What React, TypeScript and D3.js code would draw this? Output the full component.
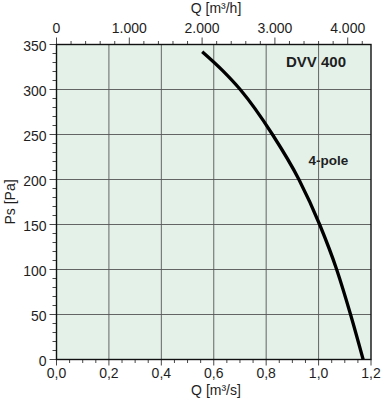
import React from "react";
import * as d3 from "d3";

const flowM3s = [0.556, 0.634, 0.701, 0.824, 0.925, 1.004, 1.069, 1.122, 1.17];
const pressurePa = [342, 321, 300, 250, 200, 150, 100, 50, 0];
const xTicks = [0, 0.2, 0.4, 0.6, 0.8, 1.0, 1.2];
const yTicks = [0, 50, 100, 150, 200, 250, 300, 350];
const topTicks = [0, 1000, 2000, 3000, 4000];
const seriesLabel = "4-pole";
const modelLabel = "DVV 400";

const W = 382, H = 400;
const L = 56.5, R = 371, T = 44.5, B = 359.5;
const FONT = "'Liberation Sans', Arial, sans-serif";
const TXT = "#1e1e1e";

export default function App() {
  const x = d3.scaleLinear().domain([0, 1.2]).range([L, R]);
  const y = d3.scaleLinear().domain([0, 350]).range([B, T]);
  const xh = d3.scaleLinear().domain([0, 1.2 * 3600]).range([L, R]);

  const pts = flowM3s.map((q, i) => [q, pressurePa[i]] as [number, number]);
  const line = d3.line<[number, number]>().x(d => x(d[0])).y(d => y(d[1])).curve(d3.curveMonotoneX);

  const xMinor = d3.range(0, 1.2001, 0.05);
  const yMinor = d3.range(0, 350.01, 10);
  const topMinor = d3.range(0, 4201, 200);
  const fmtComma = (v: number) => v.toFixed(1).replace(".", ",");
  const fmtThousand = (v: number) => v === 0 ? "0" : `${Math.floor(v / 1000)}.${String(v % 1000).padStart(3, "0")}`;

  return (
    <svg width={W} height={H} style={{ position: "absolute", left: 0, top: 0, background: "#fff" }} fontFamily={FONT}>
      <rect x={L} y={T} width={R - L} height={B - T} fill="#e3f1e9" />
      {xTicks.slice(1, -1).map(t => (
        <line key={"gx" + t} x1={x(t)} x2={x(t)} y1={T} y2={B} stroke="#555" strokeWidth={0.9} />
      ))}
      {yTicks.slice(1, -1).map(t => (
        <line key={"gy" + t} x1={L} x2={R} y1={y(t)} y2={y(t)} stroke="#555" strokeWidth={0.9} />
      ))}
      {xMinor.map(t => (
        <line key={"bx" + t} x1={x(t)} x2={x(t)} y1={B} y2={B + (Math.abs(t * 5 - Math.round(t * 5)) < 1e-6 ? 6 : 3.5)} stroke="#333" strokeWidth={0.9} />
      ))}
      {xTicks.map(t => (
        <text key={"lx" + t} x={x(t)} y={378} textAnchor="middle" fontSize={14} fill={TXT}>{fmtComma(t)}</text>
      ))}
      <text x={216} y={395} textAnchor="middle" fontSize={14} fill={TXT}>Q [m³/s]</text>
      {yMinor.map(t => (
        <line key={"ly" + t} x1={L - (t % 50 === 0 ? 7 : 4)} x2={L} y1={y(t)} y2={y(t)} stroke="#333" strokeWidth={0.9} />
      ))}
      {yTicks.map(t => (
        <text key={"tly" + t} x={46.5} y={y(t) + 6} textAnchor="end" fontSize={14} fill={TXT}>{t}</text>
      ))}
      <text transform={`translate(15,${y(175)}) rotate(-90)`} textAnchor="middle" fontSize={14} fill={TXT}>Ps [Pa]</text>
      {topMinor.map(t => (
        <line key={"tx" + t} x1={xh(t)} x2={xh(t)} y1={T - (t % 1000 === 0 ? 7 : 3.5)} y2={T} stroke="#333" strokeWidth={0.9} />
      ))}
      {topTicks.map(t => (
        <text key={"ttx" + t} x={xh(t)} y={33} textAnchor="middle" fontSize={14} fill={TXT}>{fmtThousand(t)}</text>
      ))}
      <text x={216} y={13} textAnchor="middle" fontSize={14} fill={TXT}>Q [m³/h]</text>
      <rect x={L} y={T} width={R - L} height={B - T} fill="none" stroke="#111" strokeWidth={1.4} />
      <path d={line(pts) || ""} fill="none" stroke="#000" strokeWidth={3.3} strokeLinecap="butt" />
      <text x={286} y={67} fontSize={15} fontWeight="bold" fill={TXT}>{modelLabel}</text>
      <text x={308.5} y={165} fontSize={13.5} fontWeight="bold" fill={TXT}>{seriesLabel}</text>
    </svg>
  );
}
